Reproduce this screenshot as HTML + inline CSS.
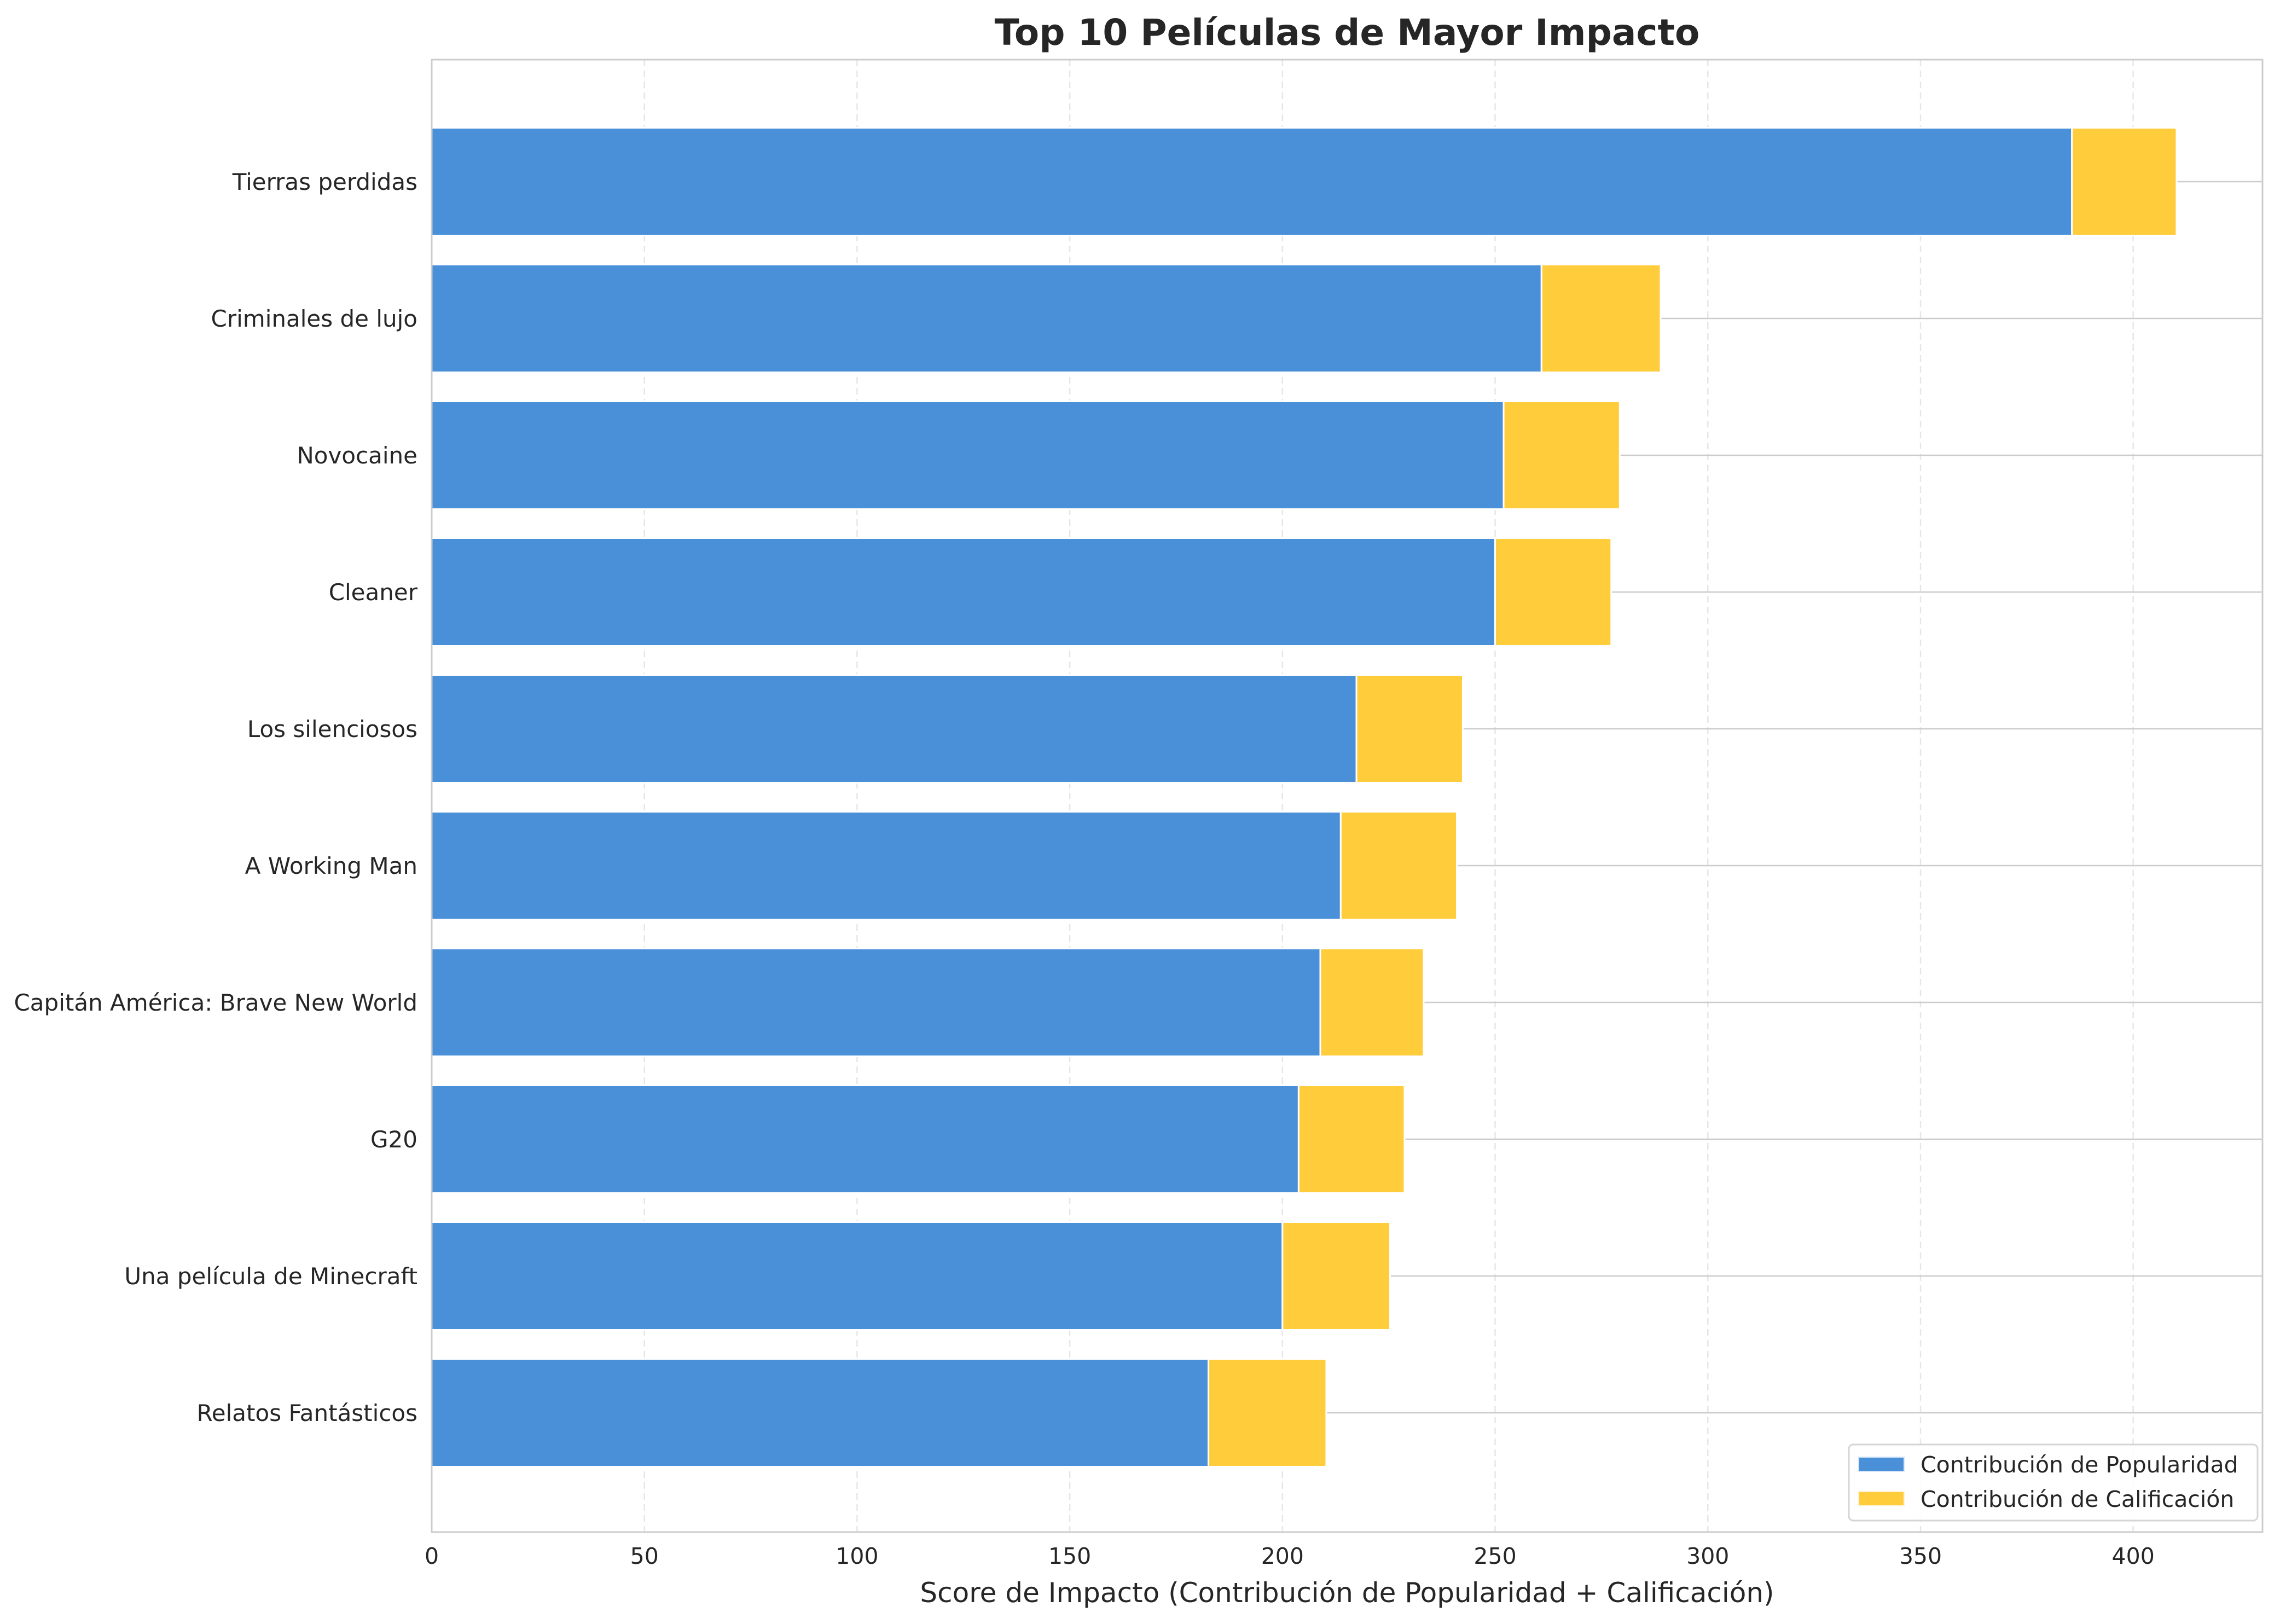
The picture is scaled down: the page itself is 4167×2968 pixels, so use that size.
<!DOCTYPE html>
<html><head><meta charset="utf-8"><style>
html,body{margin:0;padding:0;background:#fff;}
svg{display:block;font-family:"DejaVu Sans","Liberation Sans",sans-serif;}
</style></head><body>
<svg id="chart" width="4167" height="2968" viewBox="0 0 4167 2968" xmlns="http://www.w3.org/2000/svg">
<rect width="4167" height="2968" fill="#fff"/>
<text x="2462" y="82" text-anchor="middle" font-size="66" font-weight="bold" fill="#262626">Top 10 Películas de Mayor Impacto</text>
<g id="grid"></g>
<g id="bars"></g>
<rect x="789" y="109" width="3346" height="2691" fill="none" stroke="#cccccc" stroke-width="3"/>
<g id="xticks"></g>
<g id="ylabels"></g>
<text x="2462" y="2928" text-anchor="middle" font-size="50" fill="#262626">Score de Impacto (Contribución de Popularidad + Calificación)</text>
<g>
<rect x="3379" y="2640" width="747" height="139" rx="8" fill="#fff" fill-opacity="0.85" stroke="#d5d5d5" stroke-width="3"/>
<rect x="3397" y="2663" width="83" height="26" fill="#4a90d9" stroke="#d6e6f7" stroke-width="2"/>
<text x="3510" y="2691" font-size="41" fill="#262626">Contribución de Popularidad</text>
<rect x="3397" y="2726" width="83" height="26" fill="#ffcd3c" stroke="#fff2d6" stroke-width="2"/>
<text x="3510" y="2754" font-size="41" fill="#262626">Contribución de Calificación</text>
</g>
</svg>
<script>
const categories = ["Tierras perdidas","Criminales de lujo","Novocaine","Cleaner","Los silenciosos","A Working Man","Capitán América: Brave New World","G20","Una película de Minecraft","Relatos Fantásticos"];
const popularity = [385.6, 260.9, 252.0, 250.0, 217.4, 213.7, 208.9, 203.8, 200.0, 182.6];
const rating = [24.6, 28.0, 27.3, 27.3, 25.0, 27.3, 24.3, 24.9, 25.3, 27.7];
const xTicks = [0, 50, 100, 150, 200, 250, 300, 350, 400];

const NS = "http://www.w3.org/2000/svg";
const L = 789, R = 4135, T = 109, B = 2800;
const xMax = 430.4;
const x = v => L + v / xMax * (R - L);
const yC = i => 332 + i * 250;
const barH = 197;
function mk(tag, attrs, parent) {
  const e = document.createElementNS(NS, tag);
  for (const k in attrs) e.setAttribute(k, attrs[k]);
  parent.appendChild(e);
  return e;
}
const grid = document.getElementById("grid");
const bars = document.getElementById("bars");
const xt = document.getElementById("xticks");
const yl = document.getElementById("ylabels");
xTicks.forEach(t => {
  const g = mk("line", {x1: x(t), x2: x(t), y1: T, y2: B, stroke: "#e6e6e6", "stroke-width": 2.5, "stroke-dasharray": "12,8"}, grid);
  
  
  const tx = mk("text", {x: x(t), y: 2858, "text-anchor": "middle", "font-size": 41, fill: "#262626"}, xt);
  tx.textContent = t;
  
  
});
categories.forEach((c, i) => {
  const h = mk("line", {x1: L, x2: R, y1: yC(i), y2: yC(i), stroke: "#cccccc", "stroke-width": 2.5}, grid);
  
  
  const b1 = mk("rect", {x: x(0), y: yC(i) - barH / 2, width: x(popularity[i]) - x(0), height: barH, fill: "#4a90d9", stroke: "#fff", "stroke-width": 3}, bars);
  
  
  const b2 = mk("rect", {x: x(popularity[i]), y: yC(i) - barH / 2, width: x(popularity[i] + rating[i]) - x(popularity[i]), height: barH, fill: "#ffcd3c", stroke: "#fff", "stroke-width": 3}, bars);
  
  
  const t = mk("text", {x: 763, y: yC(i) + 15, "text-anchor": "end", "font-size": 42, fill: "#262626"}, yl);
  t.textContent = c;
  
  
});
</script>
</body></html>
